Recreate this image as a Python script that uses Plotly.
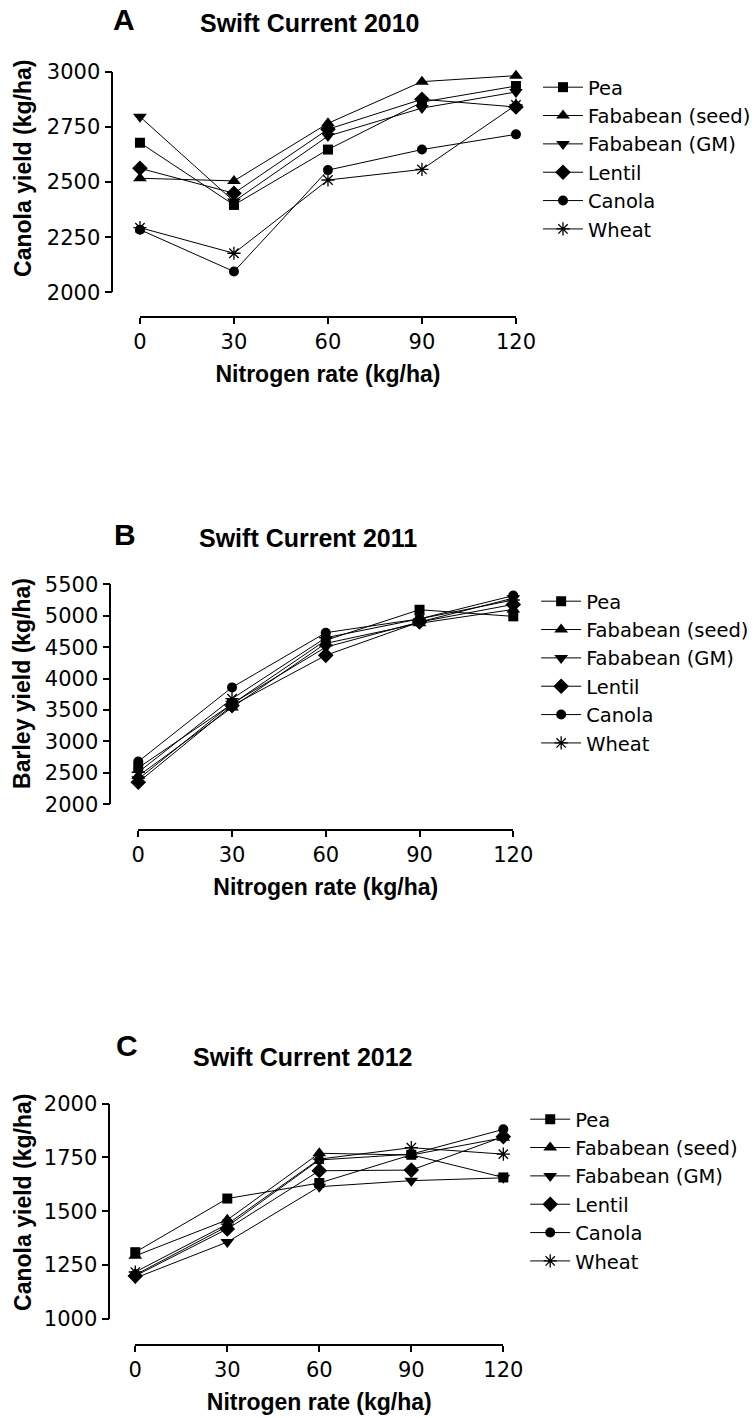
import plotly.graph_objects as go

# Nitrogen rates (kg/ha)
n_rate = [0, 30, 60, 90, 120]

crops = ["Pea", "Fababean (seed)", "Fababean (GM)", "Lentil", "Canola", "Wheat"]
symbols = ["square", "triangle-up", "triangle-down", "diamond", "circle", "asterisk-open"]
sizes = [10, 12, 12, 12, 10, 11]

# Swift Current 2010 - canola yield (kg/ha)
y2010_pea = [2678, 2396, 2647, 2862, 2935]
y2010_faba_seed = [2517, 2505, 2766, 2955, 2982]
y2010_faba_gm = [2796, 2412, 2708, 2835, 2908]
y2010_lentil = [2562, 2449, 2739, 2875, 2840]
y2010_canola = [2284, 2094, 2554, 2647, 2716]
y2010_wheat = [2293, 2177, 2509, 2557, 2849]

# Swift Current 2011 - barley yield (kg/ha)
y2011_pea = [2580, 3600, 4610, 5095, 4990]
y2011_faba_seed = [2450, 3540, 4560, 4880, 5100]
y2011_faba_gm = [2400, 3600, 4500, 4900, 5280]
y2011_lentil = [2350, 3570, 4370, 4900, 5180]
y2011_canola = [2680, 3860, 4730, 4950, 5320]
y2011_wheat = [2510, 3680, 4650, 4950, 5250]

# Swift Current 2012 - canola yield (kg/ha)
y2012_pea = [1310, 1559, 1631, 1762, 1657]
y2012_faba_seed = [1293, 1460, 1769, 1761, 1841]
y2012_faba_gm = [1190, 1357, 1614, 1642, 1655]
y2012_lentil = [1200, 1418, 1688, 1691, 1846]
y2012_canola = [1205, 1430, 1738, 1765, 1880]
y2012_wheat = [1218, 1440, 1742, 1795, 1765]

W, H = 756, 1418
FONT = "DejaVu Sans, Arial, sans-serif"
BOLD_FONT = "Liberation Sans, Arial, sans-serif"


def px(x):
    return x / W


def py(y):
    return 1 - y / H


panels = [
    dict(series=[y2010_pea, y2010_faba_seed, y2010_faba_gm, y2010_lentil, y2010_canola, y2010_wheat],
         xs=(140.7, 518.7), yl=(292.3, 71.7), yaxis_x=113, xaxis_y=317,
         yrange=[2000, 3000], yticks=[2000, 2250, 2500, 2750, 3000],
         ytitle="Canola yield (kg/ha)", ytitle_pos=(23, 168),
         title="Swift Current 2010", letter="A",
         title_pos=(312, 23), letter_pos=(125, 20), legend_pos=(541, 68)),
    dict(series=[y2011_pea, y2011_faba_seed, y2011_faba_gm, y2011_lentil, y2011_canola, y2011_wheat],
         xs=(139, 516), yl=(804.3, 584.3), yaxis_x=111, xaxis_y=830,
         yrange=[2000, 5500], yticks=[2000, 2500, 3000, 3500, 4000, 4500, 5000, 5500],
         ytitle="Barley yield (kg/ha)", ytitle_pos=(22, 683),
         title="Swift Current 2011", letter="B",
         title_pos=(310, 538), letter_pos=(126, 534), legend_pos=(539, 582)),
    dict(series=[y2012_pea, y2012_faba_seed, y2012_faba_gm, y2012_lentil, y2012_canola, y2012_wheat],
         xs=(136, 506), yl=(1319, 1103.5), yaxis_x=110, xaxis_y=1345,
         yrange=[1000, 2000], yticks=[1000, 1250, 1500, 1750, 2000],
         ytitle="Canola yield (kg/ha)", ytitle_pos=(23, 1202),
         title="Swift Current 2012", letter="C",
         title_pos=(305, 1057), letter_pos=(128, 1045), legend_pos=(528, 1100)),
]

fig = go.Figure()
layout = dict(
    width=W, height=H,
    margin=dict(l=0, r=0, t=0, b=0),
    paper_bgcolor="white", plot_bgcolor="white",
    font=dict(family=FONT, color="black"),
    annotations=[],
)

axis_common = dict(
    showgrid=False, zeroline=False, showline=True, linecolor="black", linewidth=1.8,
    ticks="outside", ticklen=7, tickwidth=1.8, tickcolor="black",
    tickfont=dict(family=FONT, size=21, color="black"), automargin=False,
)

for i, p in enumerate(panels):
    k = "" if i == 0 else str(i + 1)
    legend_name = "legend" + k
    for name, vals, sym, sz in zip(crops, p["series"], symbols, sizes):
        marker = dict(symbol=sym, size=sz, color="black")
        if sym == "asterisk-open":
            marker["line"] = dict(color="black", width=1.3)
        fig.add_trace(go.Scatter(
            x=n_rate, y=vals, name=name, mode="lines+markers",
            line=dict(color="black", width=1),
            marker=marker, cliponaxis=False,
            xaxis="x" + k, yaxis="y" + k, legend=legend_name,
        ))

    layout["xaxis" + k] = dict(
        axis_common,
        domain=[px(p["xs"][0]), px(p["xs"][1])],
        range=[0, 120], tickvals=n_rate,
        anchor="free", position=py(p["xaxis_y"]),
        ticklen=6,
        title=dict(text="<b>Nitrogen rate (kg/ha)</b>",
                   font=dict(family=BOLD_FONT, size=23), standoff=12),
    )
    layout["yaxis" + k] = dict(
        axis_common,
        domain=[py(p["yl"][0]), py(p["yl"][1])],
        range=p["yrange"], tickvals=p["yticks"],
        anchor="free", position=px(p["yaxis_x"]),
    )
    layout[legend_name] = dict(
        x=px(p["legend_pos"][0]), y=py(p["legend_pos"][1]),
        xanchor="left", yanchor="top",
        font=dict(family=FONT, size=19.5, color="black"),
        bgcolor="rgba(0,0,0,0)", borderwidth=0, itemwidth=40,
        tracegroupgap=0,
    )
    layout["annotations"].append(dict(
        text="<b>" + p["ytitle"] + "</b>", x=px(p["ytitle_pos"][0]), y=py(p["ytitle_pos"][1]),
        xref="paper", yref="paper", xanchor="center", yanchor="middle", showarrow=False,
        textangle=-90, font=dict(family=BOLD_FONT, size=23, color="black"),
    ))
    layout["annotations"].append(dict(
        text="<b>" + p["title"] + "</b>", x=px(p["title_pos"][0]), y=py(p["title_pos"][1]),
        xref="paper", yref="paper", xanchor="center", yanchor="middle", showarrow=False,
        font=dict(family=BOLD_FONT, size=25, color="black"),
    ))
    layout["annotations"].append(dict(
        text="<b>" + p["letter"] + "</b>", x=px(p["letter_pos"][0]), y=py(p["letter_pos"][1]),
        xref="paper", yref="paper", xanchor="center", yanchor="middle", showarrow=False,
        font=dict(family=BOLD_FONT, size=30, color="black"),
    ))

fig.update_layout(**layout)
fig.write_html("out.html")
